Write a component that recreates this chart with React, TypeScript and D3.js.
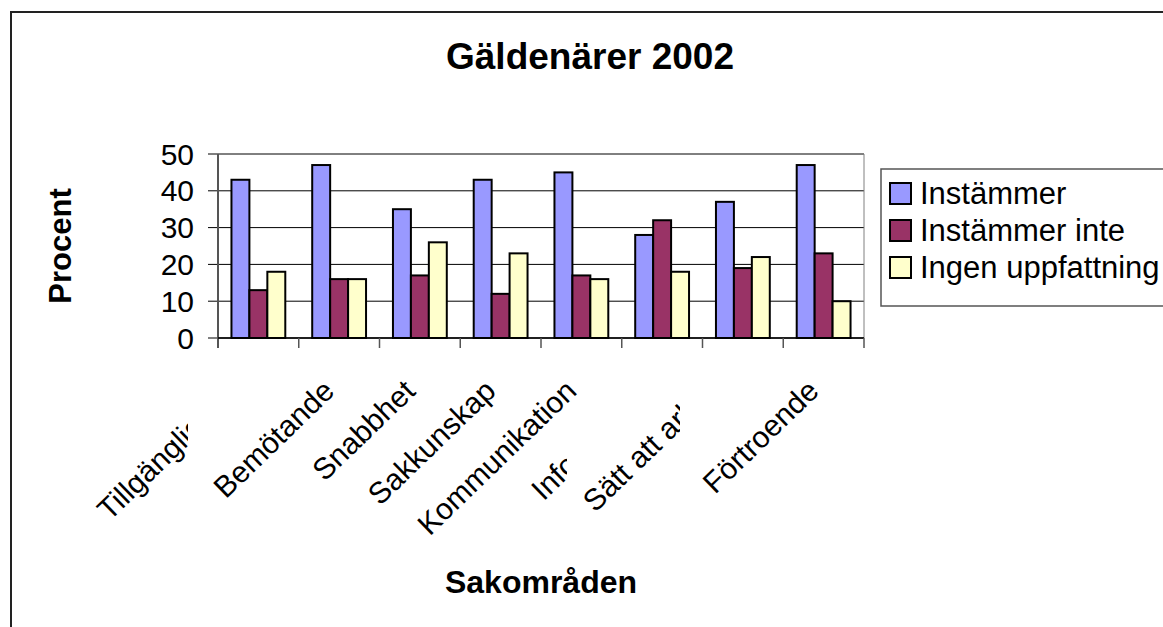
import React from "react";
import * as d3 from "d3";

const categories = ["Tillgänglighet", "Bemötande", "Snabbhet", "Sakkunskap", "Kommunikation", "Information", "Sätt att arbeta", "Förtroende"];
const seriesNames = ["Instämmer", "Instämmer inte", "Ingen uppfattning"];
const instammer = [43, 47, 35, 43, 45, 28, 37, 47];
const instammerInte = [13, 16, 17, 12, 17, 32, 19, 23];
const ingenUppfattning = [18, 16, 26, 23, 16, 18, 22, 10];
const yTicks = [0, 10, 20, 30, 40, 50];
const colors = ["#9999FF", "#993366", "#FFFFCC"];

// layout of truncated labels (the reference cuts them at a vertical edge)
const labelClip: (number | null)[] = [188, null, null, null, null, 567, 680, null];
const labelStart: ([number, number] | null)[] = [[109.5, 521.8], null, null, null, null, [543.6, 501.7], [595, 513.2], null];

const W = 1163;
const H = 627;
const FONT = "Arial, 'Liberation Sans', sans-serif";
const ANG = 44;

export default function App() {
  const seriesValues = [instammer, instammerInte, ingenUppfattning];
  const x = d3.scaleBand<string>().domain(categories).range([218, 864]).paddingInner(0).paddingOuter(0);
  const xs = d3.scaleBand<string>().domain(seriesNames).range([0, x.bandwidth()]).paddingInner(0).paddingOuter(0.75);
  const y = d3.scaleLinear().domain([0, 50]).range([338, 154]);
  const [x0, x1] = x.range();

  return (
    <div style={{ position: "fixed", left: 0, top: 0, width: W, height: H, background: "#fff" }}>
      <svg width={W} height={H} style={{ display: "block" }} fontFamily={FONT}>
        <defs>
          {categories.map((c, i) =>
            labelClip[i] != null ? (
              <clipPath id={`lc${i}`} key={c}>
                <rect x={0} y={0} width={labelClip[i] as number} height={H} />
              </clipPath>
            ) : null
          )}
        </defs>
        {/* outer chart border */}
        <path d={`M11,${H + 5} L11,12 L${W + 5},12`} fill="none" stroke="#222" strokeWidth={2} />

        {/* title */}
        <text x={590} y={69} textAnchor="middle" fontSize={37} fontWeight="bold">
          Gäldenärer 2002
        </text>

        {/* gridlines */}
        {yTicks.map((t) => (
          <line key={t} x1={208} x2={x1} y1={y(t)} y2={y(t)} stroke="#000" strokeWidth={1} />
        ))}
        {/* plot area right border */}
        <line x1={x1} x2={x1} y1={y(50)} y2={y(0)} stroke="#808080" strokeWidth={1} />

        {/* bars */}
        {categories.map((c, i) => (
          <g key={c} transform={`translate(${x(c)},0)`}>
            {seriesNames.map((s, j) => {
              const v = seriesValues[j][i];
              return (
                <rect
                  key={s}
                  x={xs(s)}
                  y={y(v)}
                  width={xs.bandwidth()}
                  height={y(0) - y(v)}
                  fill={colors[j]}
                  stroke="#000"
                  strokeWidth={2}
                />
              );
            })}
          </g>
        ))}

        {/* y axis */}
        <line x1={x0} x2={x0} y1={y(50)} y2={y(0) + 10} stroke="#555" strokeWidth={2} />
        {yTicks.map((t) => (
          <text key={t} x={194} y={y(t) + 10.5} textAnchor="end" fontSize={30}>
            {t}
          </text>
        ))}

        {/* x axis */}
        <line x1={x0} x2={x1} y1={y(0)} y2={y(0)} stroke="#000" strokeWidth={1.5} />
        {categories.map((c) => (
          <line key={c} x1={(x(c) as number) + x.bandwidth()} x2={(x(c) as number) + x.bandwidth()} y1={y(0)} y2={y(0) + 10} stroke="#555" strokeWidth={1.5} />
        ))}
        {categories.map((c, i) => {
          const st = labelStart[i];
          const cx = st ? st[0] : (x(c) as number) + x.bandwidth() / 2 - 3;
          const ty = st ? st[1] : 393;
          return (
            <g key={c} clipPath={labelClip[i] != null ? `url(#lc${i})` : undefined}>
              <text transform={`translate(${cx},${ty}) rotate(${-ANG})`} textAnchor={st ? "start" : "end"} fontSize={30}>
                {c}
              </text>
            </g>
          );
        })}

        {/* axis titles */}
        <text transform={`translate(70.7,246) rotate(-90)`} textAnchor="middle" fontSize={31} fontWeight="bold">
          Procent
        </text>
        <text x={541} y={593} textAnchor="middle" fontSize={32} fontWeight="bold">
          Sakområden
        </text>

        {/* legend */}
        <rect x={881} y={169} width={W} height={137} fill="#fff" stroke="#555" strokeWidth={1.5} />
        {seriesNames.map((s, j) => {
          const cy = 193 + j * 37;
          return (
            <g key={s}>
              <rect x={890} y={cy - 10} width={21} height={21} fill={colors[j]} stroke="#000" strokeWidth={2} />
              <text x={920} y={cy + 11} fontSize={31}>
                {s}
              </text>
            </g>
          );
        })}
      </svg>
    </div>
  );
}
